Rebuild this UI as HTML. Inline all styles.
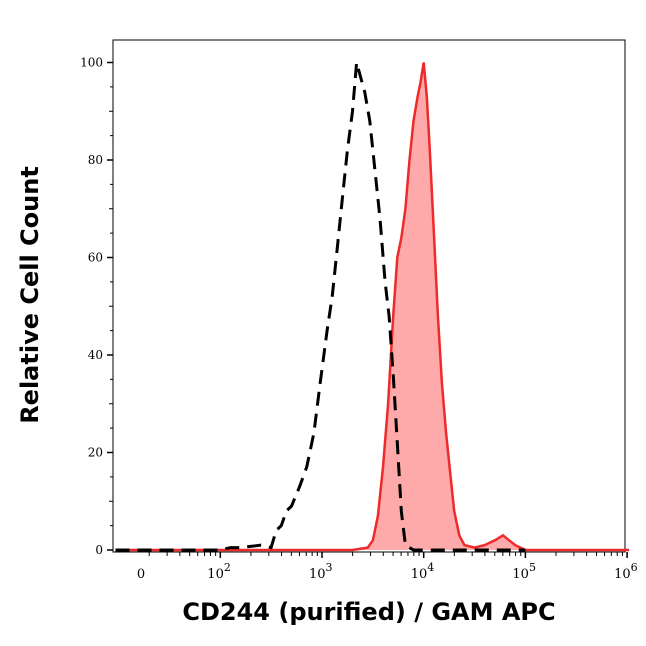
<!DOCTYPE html>
<html><head><meta charset="utf-8"><style>
body{margin:0;background:#fff}
text{font-family:"DejaVu Sans","Liberation Sans",sans-serif}
text.tk{font-family:"DejaVu Serif","Liberation Serif",serif}
</style></head><body>
<svg id="c" width="646" height="641" xmlns="http://www.w3.org/2000/svg"></svg>
<script>
const yTicks=[0,20,40,60,80,100];
const xDecades=[2,3,4,5,6];
const blackLog=[0.97,2.0,2.1,2.2,2.4,2.5,2.55,2.6,2.65,2.7,2.78,2.85,2.92,2.98,3.05,3.1,3.15,3.2,3.25,3.3,3.34,3.38,3.42,3.47,3.52,3.57,3.62,3.66,3.7,3.74,3.78,3.82,3.9,4.2,4.6,5.0];
const blackVal=[0,0,0.5,0.5,1,0.5,4,5,8,9,13,17,24,34,45,52,62,72,82,90,100,97,94,88,78,68,55,48,36,22,8,1,0,0,0,0];
const redLog=[0.97,2.5,3.3,3.45,3.5,3.55,3.6,3.65,3.7,3.74,3.78,3.82,3.86,3.9,3.94,3.97,4.0,4.03,4.06,4.1,4.14,4.18,4.22,4.26,4.3,4.35,4.4,4.5,4.6,4.7,4.78,4.84,4.9,5.0,5.2,5.6,6.02];
const redVal=[0,0,0,0.5,2,7,17,30,48,60,64,70,80,88,93,96,100,93,82,65,48,34,24,16,8,3,1,0.5,1,2,3,2,1,0,0,0,0];
const svg=document.getElementById('c');const NS='http://www.w3.org/2000/svg';
const L=113,R=625,T=40,B=552;
const xs=l=>322+(l-3)*101.7;
const ys=v=>550-v*4.875;
function mk(t,a,p){const e=document.createElementNS(NS,t);for(const k in a)e.setAttribute(k,a[k]);(p||svg).appendChild(e);return e;}
let e=mk('rect',{x:L,y:T,width:R-L,height:B-T,fill:'none',stroke:'#000','stroke-width':1});


let d='M'+xs(redLog[0])+','+ys(0);
redLog.forEach((l,i)=>{d+=' L'+xs(l).toFixed(1)+','+ys(redVal[i]).toFixed(1);});
d+=' L'+xs(redLog[redLog.length-1])+','+ys(0)+' Z';
e=mk('path',{d:d,fill:'#ffaaaa',stroke:'none'});


d='';redLog.forEach((l,i)=>{d+=(i?' L':'M')+xs(l).toFixed(1)+','+ys(redVal[i]).toFixed(1);});
e=mk('path',{d:d,fill:'none',stroke:'#ee2a2a','stroke-width':2.5});


d='';blackLog.forEach((l,i)=>{d+=(i?' L':'M')+xs(l).toFixed(1)+','+ys(blackVal[i]).toFixed(1);});
e=mk('path',{d:d,fill:'none',stroke:'#000','stroke-width':3,'stroke-dasharray':'14,8'});


yTicks.forEach(v=>{
 mk('line',{x1:L-6,x2:L,y1:ys(v),y2:ys(v),stroke:'#000','stroke-width':1.5});
 const t=mk('text',{x:L-10,y:ys(v)+4,'text-anchor':'end','font-size':12,class:'tk'});t.textContent=v;
 
 
 if(v<100){mk('line',{x1:L-4,x2:L,y1:ys(v+10),y2:ys(v+10),stroke:'#000'});}
});
for(let v=5;v<100;v+=10){mk('line',{x1:L-3,x2:L,y1:ys(v),y2:ys(v),stroke:'#000'});}
xDecades.forEach(dec=>{
 mk('line',{x1:xs(dec),x2:xs(dec),y1:B,y2:B+6,stroke:'#000','stroke-width':1.5});
 const t=mk('text',{x:xs(dec)-13,y:B+26,'font-size':13,class:'tk'});
 t.textContent='10';
 const s=mk('tspan',{dy:-7,'font-size':11},t);s.textContent=dec;
 
 
 if(dec<6)for(let m=2;m<10;m++){const x=xs(dec+Math.log10(m));mk('line',{x1:x,x2:x,y1:B,y2:B+4,stroke:'#000'});}
});
for(let m=2;m<10;m++){const x=xs(1+Math.log10(m));if(x>L+20)mk('line',{x1:x,x2:x,y1:B,y2:B+4,stroke:'#000'});}
e=mk('text',{x:141,y:B+26,'text-anchor':'middle','font-size':13,class:'tk'});e.textContent='0';


e=mk('text',{x:369,y:620,'text-anchor':'middle','font-size':24,'font-weight':'bold'});e.textContent='CD244 (purified) / GAM APC';


e=mk('text',{x:0,y:0,'text-anchor':'middle','font-size':24,'font-weight':'bold',transform:'translate(38,295) rotate(-90)'});e.textContent='Relative Cell Count';


</script>
</body></html>
